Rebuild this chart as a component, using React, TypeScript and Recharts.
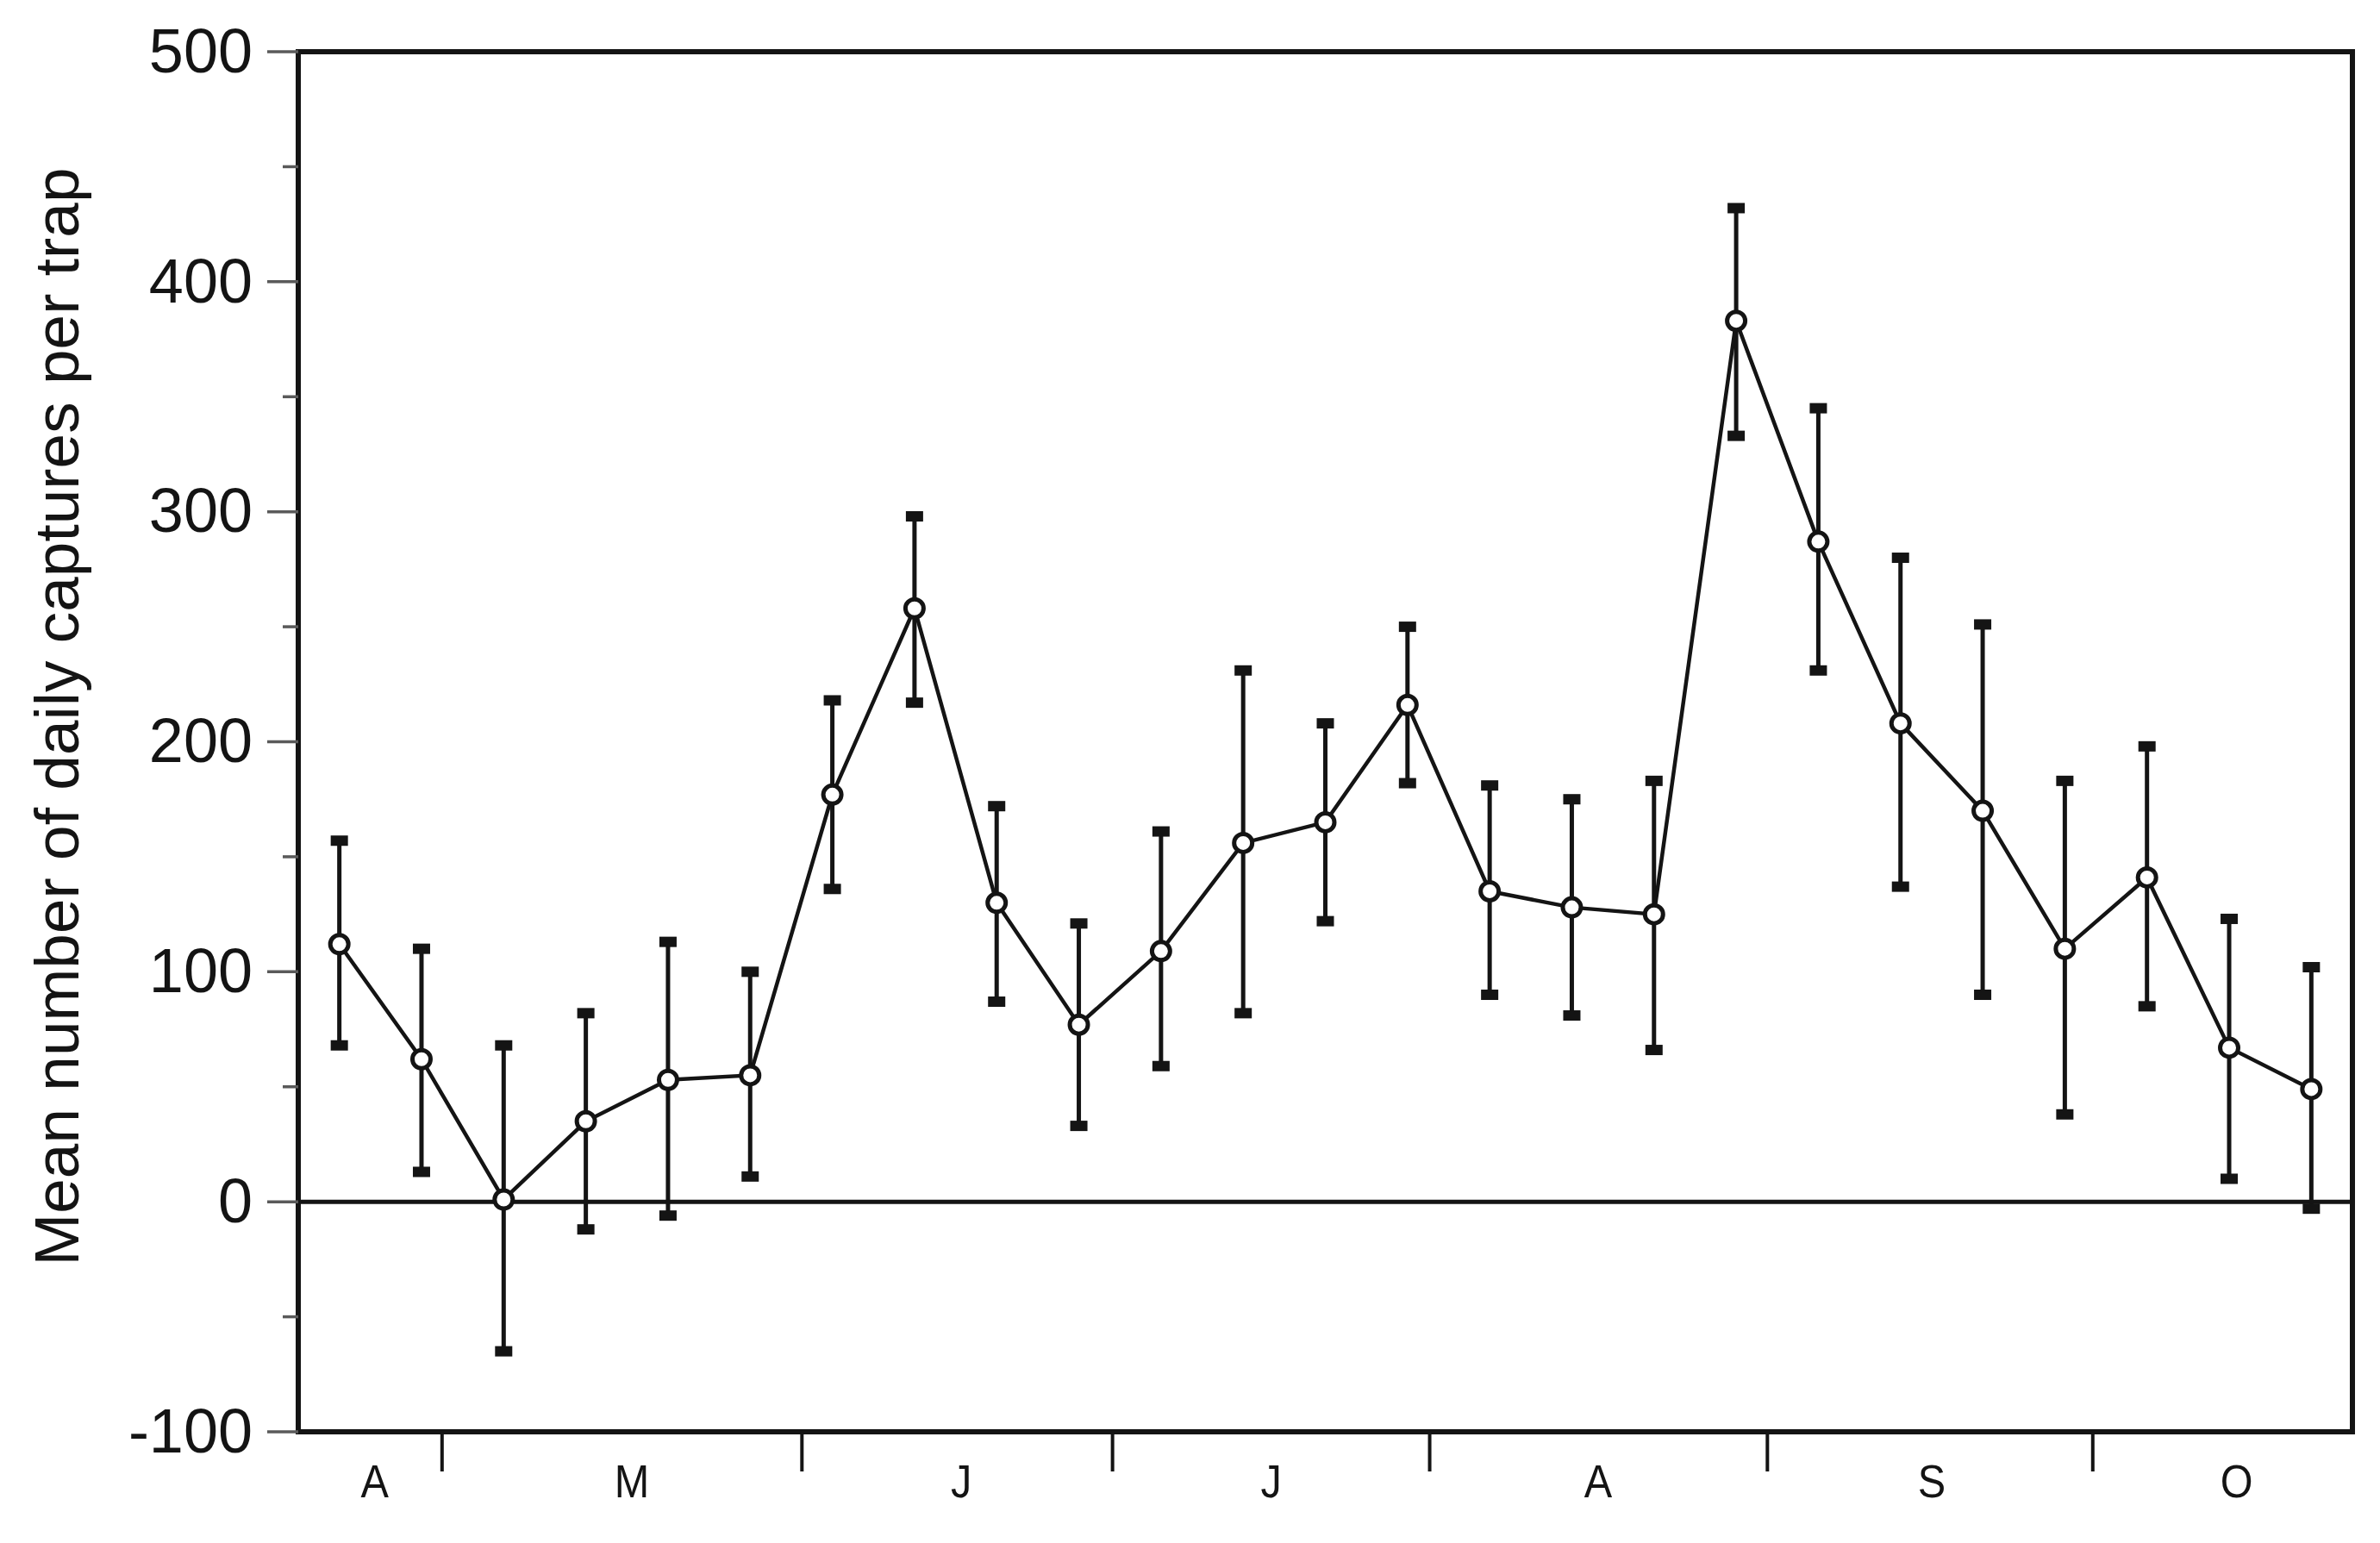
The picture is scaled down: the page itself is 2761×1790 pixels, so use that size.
import React from 'react';
import {
  ComposedChart,
  Line,
  Scatter,
  XAxis,
  YAxis,
  ErrorBar,
  ReferenceLine,
  ReferenceArea,
  Label,
} from 'recharts';

// ---- data ----
const sampleIndex = [1, 2, 3, 4, 5, 6, 7, 8, 9, 10, 11, 12, 13, 14, 15, 16, 17, 18, 19, 20, 21, 22, 23, 24, 25];
const meanCaptures = [112, 62, 1, 35, 53, 55, 177, 258, 130, 77, 109, 156, 165, 216, 135, 128, 125, 383, 287, 208, 170, 110, 141, 67, 49];
const upperBound = [157, 110, 68, 82, 113, 100, 218, 298, 172, 121, 161, 231, 208, 250, 181, 175, 183, 432, 345, 280, 251, 183, 198, 123, 102];
const lowerBound = [68, 13, -65, -12, -6, 11, 136, 217, 87, 33, 59, 82, 122, 182, 90, 81, 66, 333, 231, 137, 90, 38, 85, 10, -3];

const monthLabels = ['A', 'M', 'J', 'J', 'A', 'S', 'O'];
const monthLabelPositions = [1.43, 4.56, 8.57, 12.34, 16.32, 20.38, 24.09];
const monthBoundaries = [2.25, 6.63, 10.41, 14.27, 18.38, 22.34];
const yTicks = [-100, -50, 0, 50, 100, 150, 200, 250, 300, 350, 400, 450, 500];

const data = sampleIndex.map((t, i) => ({
  t,
  mean: meanCaptures[i],
  hi: upperBound[i],
  lo: lowerBound[i],
  err: [meanCaptures[i] - lowerBound[i], upperBound[i] - meanCaptures[i]],
}));

const xTicks = [...monthBoundaries, ...monthLabelPositions].sort((a, b) => a - b);

const FONT = '"Liberation Sans", Arial, Helvetica, sans-serif';
const INK = '#141414';

const XTick = (props: any) => {
  const { x, y, payload } = props;
  const v = payload.value;
  if (monthBoundaries.indexOf(v) >= 0) {
    return <line x1={x} x2={x} y1={y} y2={y + 46} stroke={INK} strokeWidth={4} />;
  }
  const li = monthLabelPositions.indexOf(v);
  return (
    <text
      x={x}
      y={y + 76}
      textAnchor="middle"
      fontSize={54}
      fontFamily={FONT}
      fill={INK}
      transform={`translate(${x}, 0) scale(0.9, 1) translate(${-x}, 0)`}
    >
      {monthLabels[li]}
    </text>
  );
};

const YTick = (props: any) => {
  const { x, y, payload } = props;
  const v = payload.value;
  const major = Math.abs(v % 100) === 0;
  return (
    <g>
      <line x1={x - (major ? 36 : 18)} x2={x} y1={y} y2={y} stroke="#5a5a5a" strokeWidth={3.5} />
      {major && (
        <text x={x - 53} y={y} dy="0.33em" textAnchor="end" fontSize={72} fontFamily={FONT} fill={INK}>
          {String(v)}
        </text>
      )}
    </g>
  );
};

const CapShape = (p: any) => {
  if (p.cx == null || p.cy == null) return <g />;
  return <rect x={p.cx - 10} y={p.cy - 6} width={20} height={12} fill={INK} />;
};

const TitleContent = (props: any) => {
  const vb = props.viewBox || { x: 0, y: 60, width: 346, height: 1601 };
  const cx = vb.x + 91;
  const cy = vb.y + vb.height / 2 - 29;
  return (
    <text
      x={cx}
      y={cy}
      transform={`rotate(-90, ${cx}, ${cy})`}
      textAnchor="middle"
      fontSize={73}
      fontFamily={FONT}
      fill={INK}
    >
      Mean number of daily captures per trap
    </text>
  );
};

export default function App() {
  return (
    <div style={{ position: 'absolute', left: 0, top: 0, background: '#fff' }}>
      <ComposedChart
        width={2761}
        height={1790}
        data={data}
        margin={{ top: 60, right: 32, bottom: 0, left: 0 }}
      >
        <XAxis
          dataKey="t"
          type="number"
          domain={[0.5, 25.5]}
          ticks={xTicks}
          interval={0}
          tick={<XTick />}
          tickLine={false}
          axisLine={false}
          tickSize={0}
          tickMargin={0}
          height={129}
          allowDataOverflow
        />
        <YAxis
          type="number"
          domain={[-100, 500]}
          ticks={yTicks}
          interval={0}
          tick={<YTick />}
          tickLine={false}
          axisLine={false}
          tickSize={0}
          tickMargin={0}
          width={346}
          allowDataOverflow
        >
          <Label content={<TitleContent />} />
        </YAxis>
        <ReferenceArea
          x1={0.5}
          x2={25.5}
          y1={-100}
          y2={500}
          fill="none"
          fillOpacity={0}
          stroke={INK}
          strokeWidth={6}
          ifOverflow="visible"
        />
        <ReferenceLine y={0} stroke={INK} strokeWidth={5} ifOverflow="visible" />
        <Scatter dataKey="hi" shape={<CapShape />} isAnimationActive={false} legendType="none" />
        <Scatter dataKey="lo" shape={<CapShape />} isAnimationActive={false} legendType="none" />
        <Line
          type="linear"
          dataKey="mean"
          stroke={INK}
          strokeWidth={4.5}
          dot={{ r: 10.5, fill: '#fff', stroke: INK, strokeWidth: 5 }}
          isAnimationActive={false}
          legendType="none"
        >
          <ErrorBar dataKey="err" direction="y" width={0} stroke={INK} strokeWidth={5} isAnimationActive={false} />
        </Line>
      </ComposedChart>
    </div>
  );
}
